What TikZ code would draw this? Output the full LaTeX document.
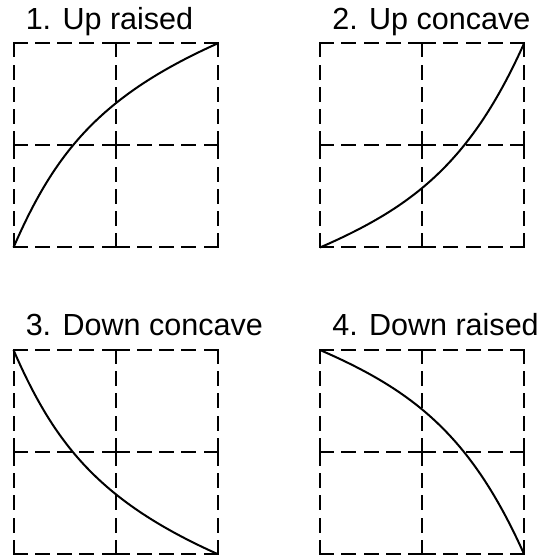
\documentclass[tikz,border=0pt]{standalone}
\usepackage{fontspec}
\setmainfont{Liberation Sans}

\begin{document}
\begin{tikzpicture}[x=0.75pt, y=0.75pt,
      cellline/.style={line width=1.5pt, line cap=rect,
                       dash pattern=on 9.75pt off 6.94pt},
      curve/.style={line width=1.5pt},
      caption/.style={anchor=base west, inner sep=0pt,
                      font=\fontsize{22.9}{27}\selectfont}]
    \useasboundingbox (0,0) rectangle (539,559);
    % dashed 2x2 grids
    \foreach \px/\py in {13.5/311.5, 320/311.5, 13.5/5, 320/5}
      \foreach \a in {0,102,204}
        \foreach \b in {0,102} {
          \draw[cellline, shift={(\px,\py)}] (\b,\a) -- ++(102,0);
          \draw[cellline, shift={(\px,\py)}] (\a,\b) -- ++(0,102);
        }
    % panel corners
    \coordinate (p1sw) at (13.5,311.5); \coordinate (p1ne) at (217.5,515.5);
    \coordinate (p2sw) at (320,311.5);  \coordinate (p2ne) at (524,515.5);
    \coordinate (p3nw) at (13.5,209);   \coordinate (p3se) at (217.5,5);
    \coordinate (p4nw) at (320,209);    \coordinate (p4se) at (524,5);
    % titles
    \node[caption] (cap1) at (25.5,529.5) {1. Up raised};
    \node[caption] (cap2) at (332,529.5)  {2. Up concave};
    \node[caption] (cap3) at (25.5,223)   {3. Down concave};
    \node[caption] (cap4) at (332,223)    {4. Down raised};
    % curves
    \draw[curve] (p1sw) .. controls +(40.8,93.8) and +(-118.3,-53) .. (p1ne);
    \draw[curve] (p2sw) .. controls +(93.8,40.8) and +(-53,-118.3) .. (p2ne);
    \draw[curve] (p3nw) .. controls +(40.8,-93.8) and +(-118.3,53) .. (p3se);
    \draw[curve] (p4nw) .. controls +(93.8,-40.8) and +(-53,118.3) .. (p4se);
  \end{tikzpicture}
\end{document}
